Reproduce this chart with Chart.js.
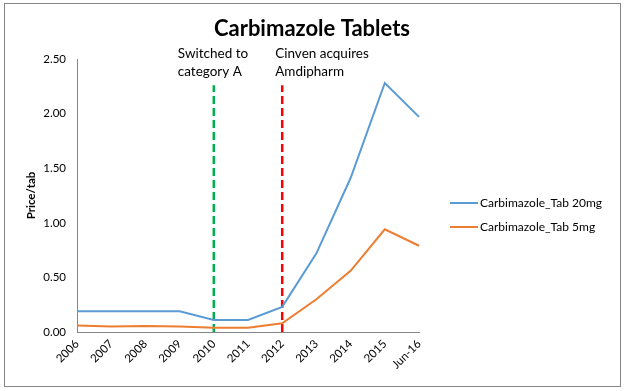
<!DOCTYPE html>
<html>
<head>
<meta charset="utf-8">
<script src="https://cdn.jsdelivr.net/npm/chart.js@4/dist/chart.umd.min.js"></script>
<style>
  body { margin: 0; background: #fff; }
  #wrap { position: relative; width: 625px; height: 391px; }
  #frame { position: absolute; left: 4px; top: 3px; width: 615px; height: 382px; border: 1px solid #868686; pointer-events: none; }
</style>
</head>
<body>
<div id="wrap">
  <canvas id="myChart" width="625" height="391"></canvas>
  <div id="frame"></div>
</div>
<script>
// data
const years = ['2006', '2007', '2008', '2009', '2010', '2011', '2012', '2013', '2014', '2015', 'Jun-16'];
const tab20mg = [0.19, 0.19, 0.19, 0.19, 0.11, 0.11, 0.23, 0.72, 1.41, 2.28, 1.97];
const tab5mg = [0.06, 0.05, 0.055, 0.05, 0.04, 0.04, 0.08, 0.30, 0.56, 0.94, 0.79];
const seriesNames = ['Carbimazole_Tab 20mg', 'Carbimazole_Tab 5mg'];
const eventYears = ['2010', '2012'];
const eventNotes = [['Switched to', 'category A'], ['Cinven acquires', 'Amdipharm']];
const eventTop = 2.26;

const font = 'Lato, "Open Sans", sans-serif';

// title, legend and event notes
const extras = {
  id: 'extras',
  afterDraw(chart) {
    const ctx = chart.ctx;
    const x = chart.scales.x;
    ctx.save();
    ctx.fillStyle = '#000';
    ctx.font = 'bold 22px ' + font;
    ctx.textAlign = 'center';
    ctx.textBaseline = 'alphabetic';
    ctx.fillText('Carbimazole Tablets', 312, 36);

    ctx.font = '13.5px ' + font;
    ctx.textAlign = 'left';
    eventNotes.forEach(function (lines, i) {
      const px = x.getPixelForValue(years.indexOf(eventYears[i]));
      const left = i === 0 ? px - 36 : px - 7;
      lines.forEach(function (t, j) { ctx.fillText(t, left, 58 + j * 18); });
    });

    // legend
    const colors = ['#5B9BD5', '#ED7D31'];
    ctx.font = '12px ' + font;
    ctx.textBaseline = 'middle';
    seriesNames.forEach(function (name, i) {
      const y = 203 + i * 24;
      ctx.strokeStyle = colors[i];
      ctx.lineWidth = 2;
      ctx.beginPath();
      ctx.moveTo(450, y);
      ctx.lineTo(478, y);
      ctx.stroke();
      ctx.fillStyle = '#000';
      ctx.fillText(name, 480, y);
    });
    ctx.restore();
  }
};

new Chart(document.getElementById('myChart'), {
  type: 'line',
  data: {
    labels: years,
    datasets: [
      { label: seriesNames[0], data: tab20mg, borderColor: '#5B9BD5', borderWidth: 2, pointRadius: 0, tension: 0 },
      { label: seriesNames[1], data: tab5mg, borderColor: '#ED7D31', borderWidth: 2, pointRadius: 0, tension: 0 },
      { label: 'switch', data: [{ x: eventYears[0], y: 0 }, { x: eventYears[0], y: eventTop }], borderColor: '#00B050', borderWidth: 2.5, borderDash: [8, 4], pointRadius: 0 },
      { label: 'cinven', data: [{ x: eventYears[1], y: 0 }, { x: eventYears[1], y: eventTop }], borderColor: '#FF0000', borderWidth: 2.5, borderDash: [8, 4], pointRadius: 0 }
    ]
  },
  options: {
    responsive: false,
    animation: false,
    layout: { padding: { left: 0, right: 206, top: 59, bottom: 0 } },
    plugins: {
      legend: { display: false },
      title: { display: false },
      tooltip: { enabled: false }
    },
    scales: {
      x: {
        offset: false,
        grid: { display: false, drawOnChartArea: false, drawTicks: true, tickLength: 5, tickColor: '#868686' },
        border: { color: '#868686', width: 1 },
        ticks: { color: '#000', font: { family: font, size: 11.5 }, minRotation: 45, maxRotation: 45, autoSkip: false, padding: 0 },
        afterFit(s) { s.height = 59; }
      },
      y: {
        min: 0, max: 2.5,
        grid: { display: false, drawTicks: false },
        border: { color: '#868686', width: 1 },
        ticks: { stepSize: 0.5, color: '#000', font: { family: font, size: 11.5 }, padding: 11, callback: function (v) { return v.toFixed(2); } },
        title: { display: true, text: 'Price/tab', color: '#000', font: { family: font, size: 11.5, weight: 'bold' }, padding: { top: 24, bottom: 0 } },
        afterFit(s) { s.width = 77; }
      }
    }
  },
  plugins: [extras]
});
</script>
</body>
</html>
